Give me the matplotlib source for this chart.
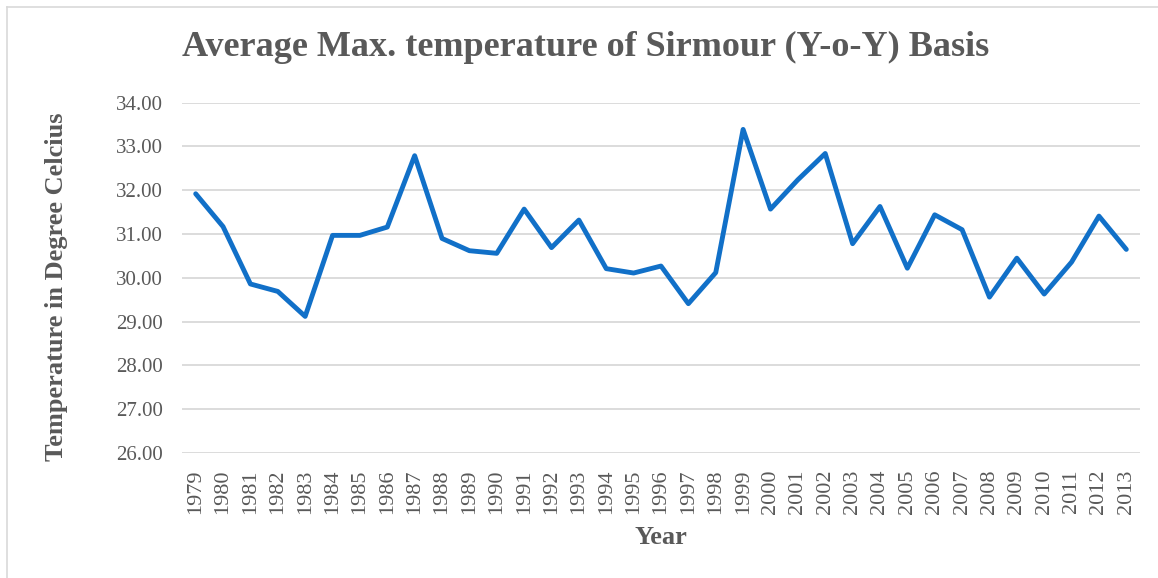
import matplotlib
matplotlib.use("Agg")
import matplotlib.pyplot as plt
from matplotlib.lines import Line2D

years = [str(y) for y in range(1979, 2014)]
temps = [31.92, 31.17, 29.86, 29.69, 29.12, 30.97, 30.97, 31.16, 32.79, 30.90,
         30.62, 30.56, 31.57, 30.69, 31.32, 30.21, 30.11, 30.27, 29.41, 30.12,
         33.39, 31.57, 32.24, 32.84, 30.78, 31.63, 30.22, 31.44, 31.10, 29.56,
         30.45, 29.63, 30.36, 31.41, 30.65]
yticks = [26, 27, 28, 29, 30, 31, 32, 33, 34]

title = "Average Max. temperature of Sirmour (Y-o-Y) Basis"
xlabel = "Year"
ylabel = "Temperature in Degree Celcius"

plt.rcParams['font.family'] = ['Liberation Serif', 'DejaVu Serif']
txt = '#595959'
W, H = 1158, 578

fig = plt.figure(figsize=(W / 100, H / 100), dpi=100)
# outer chart border (left and top visible)
fig.add_artist(Line2D([7 / W, 7 / W], [0, 1 - 7 / H], transform=fig.transFigure,
                      color='#D9D9D9', linewidth=1.2))
fig.add_artist(Line2D([7 / W, 1], [1 - 7 / H, 1 - 7 / H], transform=fig.transFigure,
                      color='#D9D9D9', linewidth=1.2))

ax = fig.add_axes([182 / W, 1 - 453 / H, (1140 - 182) / W, (453 - 102.7) / H])

x = list(range(len(years)))
ax.plot(x, temps, color='#1170C8', linewidth=3.5, solid_joinstyle='round',
        solid_capstyle='round', zorder=3)
ax.set_xlim(-0.5, len(years) - 0.5)
ax.set_ylim(26, 34)
ax.set_yticks(yticks)
ax.set_yticklabels([f"{v:.2f}" for v in yticks])
ax.set_xticks(x)
ax.set_xticklabels(years, rotation=90)
ax.grid(axis='y', color='#D9D9D9', linewidth=1.3)
ax.set_axisbelow(True)
for s in ax.spines.values():
    s.set_visible(False)
ax.tick_params(axis='both', length=0, colors=txt)
ax.tick_params(axis='y', pad=14, labelsize=15)
ax.tick_params(axis='x', pad=12, labelsize=16)

fig.text(586 / W, 1 - 47 / H, title, ha='center', va='center', fontsize=26,
         fontweight='bold', color=txt)
fig.text(661 / W, 1 - 537 / H, xlabel, ha='center', va='center', fontsize=19,
         fontweight='bold', color=txt)
fig.text(57 / W, 1 - 287 / H, ylabel, ha='center', va='center', rotation=90,
         fontsize=19, fontweight='bold', color=txt)

fig.savefig("out.png", dpi=100)
